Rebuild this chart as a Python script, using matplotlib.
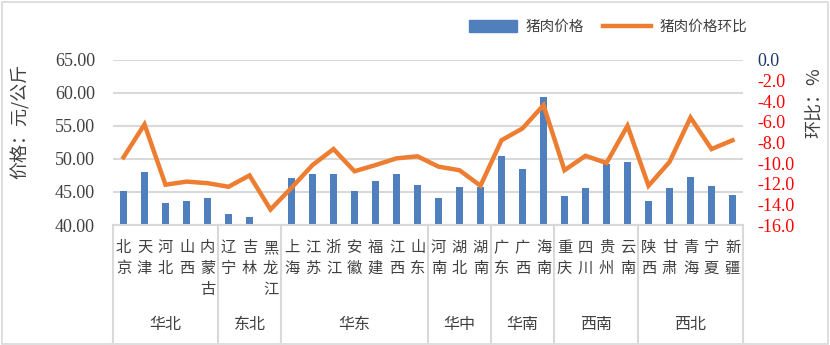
import numpy as np
import matplotlib
matplotlib.use("Agg")
import matplotlib.pyplot as plt
from matplotlib.lines import Line2D
from matplotlib.patches import Rectangle

plt.rcParams['font.family'] = ['Noto Sans CJK SC', 'DejaVu Sans']

provinces = ["北京", "天津", "河北", "山西", "内蒙古",
             "辽宁", "吉林", "黑龙江",
             "上海", "江苏", "浙江", "安徽", "福建", "江西", "山东",
             "河南", "湖北", "湖南",
             "广东", "广西", "海南",
             "重庆", "四川", "贵州", "云南",
             "陕西", "甘肃", "青海", "宁夏", "新疆"]
regions = ["华北", "东北", "华东", "华中", "华南", "西南", "西北"]
region_sizes = [5, 3, 7, 3, 3, 4, 5]

price = [45.1, 48.0, 43.3, 43.6, 44.1,
         41.6, 41.2, np.nan,
         47.1, 47.7, 47.7, 45.1, 46.6, 47.7, 46.0,
         44.1, 45.7, 45.8,
         50.4, 48.5, 59.3,
         44.4, 45.6, 49.3, 49.5,
         43.6, 45.6, 47.3, 45.9, 44.5]
mom = [-9.45, -6.26, -12.1, -11.8, -11.95,
       -12.3, -11.2, -14.5,
       -12.4, -10.2, -8.65, -10.8, -10.2, -9.55, -9.35,
       -10.35, -10.7, -12.2,
       -7.8, -6.65, -4.4,
       -10.7, -9.3, -10.0, -6.4,
       -12.2, -9.9, -5.6, -8.65, -7.8]

left_ticks = [40, 45, 50, 55, 60, 65]
right_ticks = [0, -2, -4, -6, -8, -10, -12, -14, -16]

BLUE = "#4F7FBD"
ORANGE = "#ED7D31"
GRID = "#D9D9D9"
num_font = dict(fontfamily=['Liberation Serif', 'DejaVu Serif'], fontsize=13)

fig = plt.figure(figsize=(8.3, 3.45), dpi=100)
fig.patches.append(Rectangle((0.002, 0.004), 0.995, 0.99, transform=fig.transFigure,
                             fill=False, edgecolor=GRID, linewidth=1.2))

W, H = 830, 345
x0, x1, ytop, ybot = 113, 743, 59.7, 225
ax = fig.add_axes([x0 / W, 1 - ybot / H, (x1 - x0) / W, (ybot - ytop) / H])
x = np.arange(len(provinces))
ax.bar(x, price, width=0.29, color=BLUE, zorder=2, label="猪肉价格")
ax.set_xlim(-0.5, len(provinces) - 0.5)
ax.set_ylim(40, 65)
ax.set_yticks(left_ticks)
ax.set_yticklabels([f"{v:.2f}" for v in left_ticks], **num_font, color="#404040")
ax.grid(axis='y', color=GRID, linewidth=1.5, zorder=0)
ax.tick_params(axis='y', length=0, pad=13)
for s in ["top", "right", "left"]:
    ax.spines[s].set_visible(False)
ax.spines["bottom"].set_color(GRID)
ax.spines["bottom"].set_linewidth(1.5)

ax.set_xticks(x)
ax.set_xticklabels(["\n".join(p) for p in provinces], fontsize=11, color="#404040",
                   linespacing=1.3, va="top")
ax.tick_params(axis='x', length=0, pad=10)

ax2 = ax.twinx()
ax2.plot(x, mom, color=ORANGE, linewidth=3.2, solid_joinstyle='miter', zorder=3,
         label="猪肉价格环比")
ax2.set_ylim(-16, 0)
ax2.set_yticks(right_ticks)
ax2.set_yticklabels([f"{v:.1f}" for v in right_ticks], **num_font)
for lab, v in zip(ax2.get_yticklabels(), right_ticks):
    lab.set_color("#1F3864" if v == 0 else "#FF0000")
ax2.tick_params(axis='y', length=0, pad=10)
for s in ax2.spines.values():
    s.set_visible(False)

# group separators and region names under the category axis
bounds = np.concatenate([[0], np.cumsum(region_sizes)]) - 0.5
trans = matplotlib.transforms.blended_transform_factory(ax.transData, fig.transFigure)
for b in bounds:
    fig.add_artist(Line2D([b, b], [1 - ybot / H, 1 - 342 / H], transform=trans,
                          color=GRID, linewidth=1.5))
for name, a, b in zip(regions, bounds[:-1], bounds[1:]):
    fig.text((a + b) / 2, 1 - 324 / H, name, transform=trans, ha="center", va="center",
             fontsize=11.5, color="#404040")

fig.text(20 / W, 1 - 121 / H, "价格：元/公斤", rotation=90, ha="center", va="center",
         fontsize=13, color="#404040")
fig.text(815 / W, 1 - 103 / H, "环比：%", rotation=90, ha="center", va="center",
         fontsize=13, color="#404040")

handles = [Rectangle((0, 0), 1, 1, color=BLUE),
           Line2D([0], [0], color=ORANGE, linewidth=3.2)]
fig.legend(handles, ["猪肉价格", "猪肉价格环比"], loc="center", ncol=2,
           bbox_to_anchor=(608 / W, 1 - 27 / H), frameon=False, fontsize=10.5,
           handlelength=3.3, handleheight=0.8, columnspacing=1.3, handletextpad=0.6,
           labelcolor="#404040")

fig.savefig("out.png", dpi=100)
